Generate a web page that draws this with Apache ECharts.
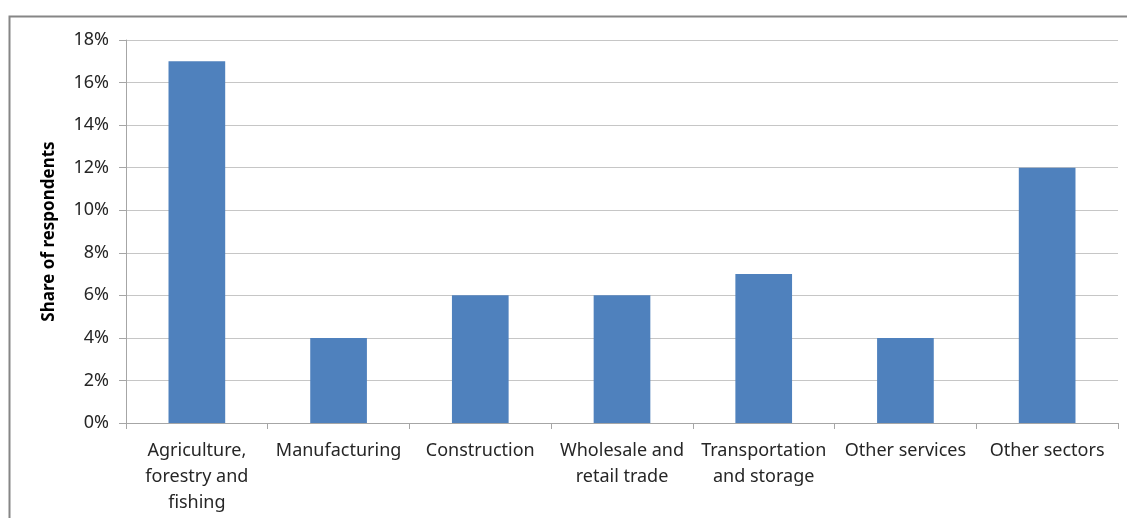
<!DOCTYPE html>
<html><head><meta charset="utf-8">
<script src="https://cdn.jsdelivr.net/npm/echarts@6/dist/echarts.min.js"></script>
<style>html,body{margin:0;padding:0;background:#fff}#c{width:1127px;height:518px}</style>
</head><body><div id="c"></div>
<script>
const categories = ['Agriculture,\nforestry and\nfishing','Manufacturing','Construction','Wholesale and\nretail trade','Transportation\nand storage','Other services','Other sectors'];
const values = [17, 4, 6, 6, 7, 4, 12];
const yTicks = {min: 0, max: 18, interval: 2};
const yTitle = 'Share of respondents';

const chart = echarts.init(document.getElementById('c'), null, {renderer: 'canvas'});
chart.setOption({
  animation: false,
  backgroundColor: '#fff',
  graphic: [{type: 'rect', shape: {x: 9.5, y: 16.5, width: 1130, height: 520}, style: {fill: 'none', stroke: '#868686', lineWidth: 2}, silent: true}],
  grid: {left: 126, right: 9, top: 40, bottom: 95, containLabel: false},
  xAxis: {
    type: 'category', data: categories, boundaryGap: true,
    axisLine: {lineStyle: {color: '#a6a6a6', width: 1}},
    axisTick: {show: true, length: 6, alignWithLabel: false, lineStyle: {color: '#a6a6a6'}},
    axisLabel: {interval: 0, color: '#262626', fontFamily: 'Noto Sans', fontSize: 18, lineHeight: 26, margin: 15}
  },
  yAxis: {
    type: 'value', min: yTicks.min, max: yTicks.max, interval: yTicks.interval,
    name: yTitle, nameLocation: 'middle', nameGap: 68, nameRotate: 90,
    nameTextStyle: {fontFamily: 'Noto Sans', fontWeight: 'bold', fontSize: 17, color: '#000'},
    axisLine: {show: true, lineStyle: {color: '#a6a6a6'}},
    axisTick: {show: true, length: 7, lineStyle: {color: '#a6a6a6'}},
    splitLine: {lineStyle: {color: '#c6c6c6', width: 1}},
    axisLabel: {formatter: v => v + '%', color: '#262626', fontFamily: 'Noto Sans', fontSize: 18, margin: 17}
  },
  series: [{type: 'bar', data: values, barWidth: '40%', itemStyle: {color: '#4f81bd'}}]
});
</script></body></html>
